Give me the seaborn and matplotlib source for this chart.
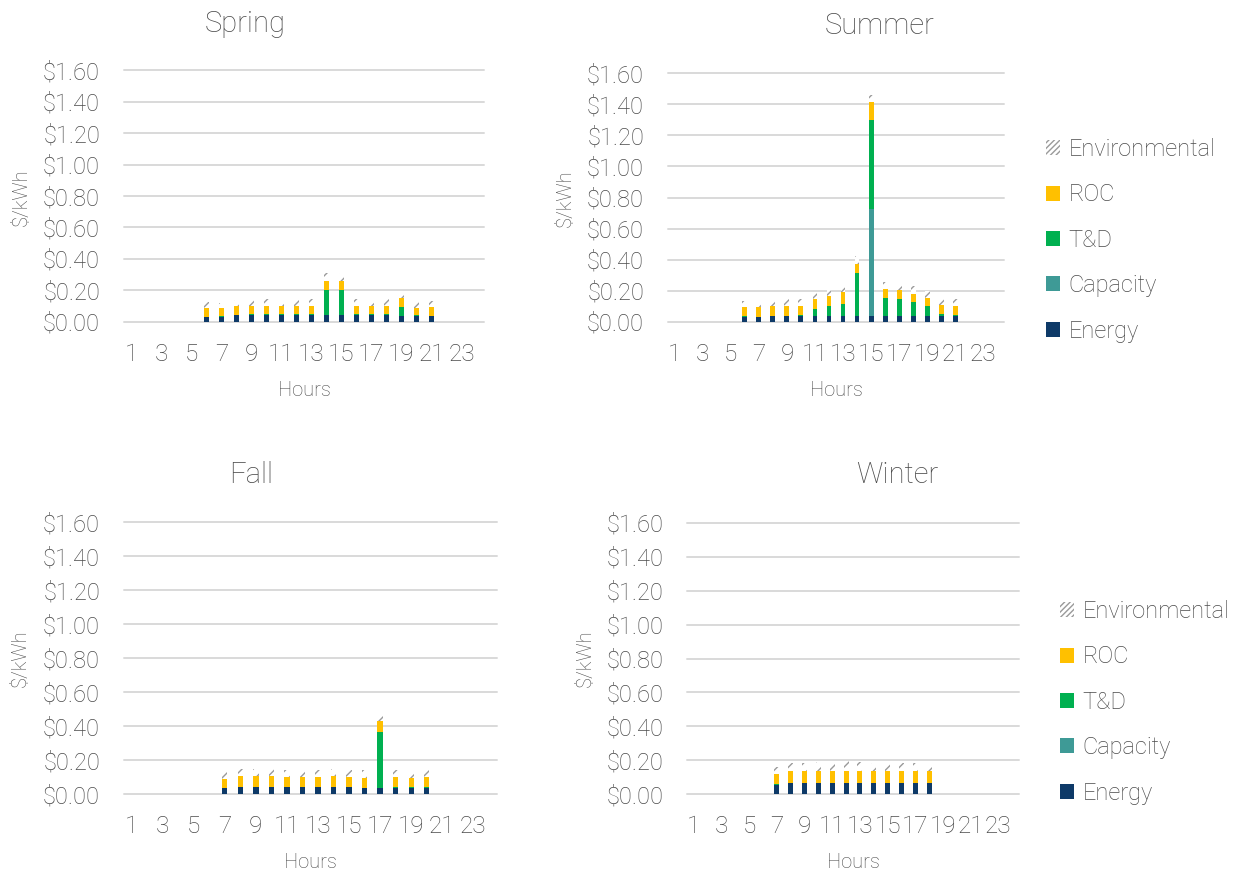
import numpy as np
import pandas as pd
import matplotlib
matplotlib.use('Agg')
import matplotlib.pyplot as plt
from matplotlib.patches import Patch
from matplotlib.ticker import FuncFormatter
import seaborn as sns

# categorias do eixo x (24 horas)
hour_order = [str(h) for h in range(1, 25)]
hour_ticklabels = [str(h) if h % 2 == 1 else '' for h in range(1, 25)]

components = ['Energy', 'Capacity', 'T&D', 'ROC', 'Environmental']

# Spring - horas 6 a 21
spring_hours = [6, 7, 8, 9, 10, 11, 12, 13, 14, 15, 16, 17, 18, 19, 20, 21]
spring_energy = [0.030, 0.032, 0.041, 0.045, 0.045, 0.045, 0.045, 0.045, 0.045, 0.045, 0.045, 0.045, 0.045, 0.039, 0.039, 0.034]
spring_capacity = [0, 0, 0, 0, 0, 0, 0, 0, 0, 0, 0, 0, 0, 0, 0, 0]
spring_td = [0.003, 0.003, 0.002, 0.002, 0.002, 0.002, 0.002, 0.002, 0.155, 0.159, 0.002, 0.002, 0.002, 0.056, 0.002, 0.005]
spring_roc = [0.057, 0.053, 0.056, 0.056, 0.056, 0.056, 0.054, 0.056, 0.058, 0.056, 0.056, 0.056, 0.056, 0.058, 0.049, 0.056]
spring_env = [0.033, 0.030, 0.036, 0.043, 0.043, 0.037, 0.037, 0.041, 0.049, 0.047, 0.043, 0.043, 0.043, 0.038, 0.039, 0.034]

# Summer - horas 6 a 21
summer_hours = [6, 7, 8, 9, 10, 11, 12, 13, 14, 15, 16, 17, 18, 19, 20, 21]
summer_energy = [0.030, 0.030, 0.037, 0.037, 0.037, 0.037, 0.037, 0.037, 0.037, 0.037, 0.037, 0.037, 0.037, 0.037, 0.037, 0.037]
summer_capacity = [0, 0, 0, 0, 0, 0, 0, 0, 0, 0.688, 0, 0, 0, 0, 0, 0]
summer_td = [0.004, 0.003, 0.002, 0.002, 0.004, 0.043, 0.064, 0.077, 0.277, 0.574, 0.116, 0.111, 0.092, 0.064, 0.010, 0.006]
summer_roc = [0.061, 0.059, 0.060, 0.060, 0.060, 0.064, 0.065, 0.077, 0.060, 0.116, 0.056, 0.054, 0.052, 0.052, 0.063, 0.058]
summer_env = [0.038, 0.041, 0.045, 0.045, 0.043, 0.047, 0.047, 0.048, 0.047, 0.045, 0.049, 0.047, 0.047, 0.045, 0.038, 0.043]

# Fall - horas 7 a 20
fall_hours = [7, 8, 9, 10, 11, 12, 13, 14, 15, 16, 17, 18, 19, 20]
fall_energy = [0.037, 0.041, 0.041, 0.041, 0.041, 0.041, 0.041, 0.041, 0.041, 0.037, 0.035, 0.037, 0.037, 0.037]
fall_capacity = [0, 0, 0, 0, 0, 0, 0, 0, 0, 0, 0, 0, 0, 0]
fall_td = [0.002, 0.002, 0.002, 0.002, 0.002, 0.002, 0.002, 0.002, 0.002, 0.002, 0.330, 0.006, 0.004, 0.006]
fall_roc = [0.053, 0.063, 0.063, 0.063, 0.061, 0.061, 0.059, 0.063, 0.061, 0.059, 0.064, 0.057, 0.055, 0.061]
fall_env = [0.037, 0.043, 0.043, 0.043, 0.041, 0.041, 0.043, 0.043, 0.041, 0.043, 0.046, 0.041, 0.041, 0.041]

# Winter - horas 7 a 18
winter_hours = [7, 8, 9, 10, 11, 12, 13, 14, 15, 16, 17, 18]
winter_energy = [0.057, 0.065, 0.065, 0.065, 0.065, 0.065, 0.065, 0.065, 0.065, 0.065, 0.065, 0.065]
winter_capacity = [0, 0, 0, 0, 0, 0, 0, 0, 0, 0, 0, 0]
winter_td = [0.006, 0.004, 0.004, 0.004, 0.004, 0.004, 0.004, 0.004, 0.004, 0.004, 0.004, 0.004]
winter_roc = [0.058, 0.066, 0.070, 0.070, 0.070, 0.070, 0.070, 0.070, 0.070, 0.066, 0.066, 0.066]
winter_env = [0.039, 0.049, 0.045, 0.050, 0.045, 0.055, 0.050, 0.045, 0.045, 0.049, 0.049, 0.043]

colors = {
    'Energy': '#0E3A68',
    'Capacity': '#3E9A96',
    'T&D': '#00B050',
    'ROC': '#FFC000',
    'Environmental': 'white',
}
hatch_color = '#9A9A9A'
text_color = '#4A4A4A'

sns.set_style('white')
plt.rcParams['font.family'] = ['Roboto', 'DejaVu Sans']
plt.rcParams['font.weight'] = 'light'
plt.rcParams['hatch.linewidth'] = 1.0
plt.rcParams['hatch.color'] = hatch_color

W, H = 1235, 873
fig = plt.figure(figsize=(W / 100, H / 100), dpi=100)


def px(x, y):
    return x / W, 1 - y / H


def rect(l, t, r, b):
    return [l / W, 1 - b / H, (r - l) / W, (b - t) / H]


def draw_season(ax, hours, energy, capacity, td, roc, env):
    parts = dict(zip(components, [energy, capacity, td, roc, env]))
    df = pd.DataFrame(parts, index=hours).reindex(range(1, 25), fill_value=0.0)
    df.index = hour_order
    bottom = np.zeros(24)
    for comp in components:
        vals = df[comp].values
        kw = {}
        if comp == 'Environmental':
            kw = dict(hatch='///', edgecolor=hatch_color)
        sns.barplot(x=df.index, y=vals, order=hour_order, color=colors[comp],
                    saturation=1, width=0.35, linewidth=0, errorbar=None,
                    bottom=bottom.copy(), ax=ax, **kw)
        bottom = bottom + vals

    ax.set_ylim(0, 1.6)
    ax.set_xlim(-0.5, 23.5)
    ax.set_yticks(np.arange(0, 1.61, 0.2))
    ax.yaxis.set_major_formatter(FuncFormatter(lambda v, p: f'${v:.2f}'))
    ax.set_xticks(range(24))
    ax.set_xticklabels(hour_ticklabels)
    ax.grid(axis='y', color='#D9D9D9', linewidth=1.4)
    ax.grid(axis='x', visible=False)
    ax.set_axisbelow(True)
    for gl in ax.get_ygridlines():
        gl.set_clip_on(False)
    sns.despine(ax=ax, left=True, bottom=True)
    ax.tick_params(axis='y', length=0, pad=17, labelsize=17, labelcolor=text_color)
    ax.tick_params(axis='x', length=0, pad=15, labelsize=17.5, labelcolor=text_color)
    ax.set_xlabel('')
    ax.set_ylabel('')


seasons = [
    ('Spring', (123.7, 70.3, 484, 321.7), spring_hours, spring_energy, spring_capacity, spring_td, spring_roc, spring_env,
     (245, 32), (304, 396), (21, 197)),
    ('Summer', (667.7, 73.3, 1004.3, 321.7), summer_hours, summer_energy, summer_capacity, summer_td, summer_roc, summer_env,
     (880, 34), (836, 396), (565, 198)),
    ('Fall', (123.7, 522.3, 496.7, 794.3), fall_hours, fall_energy, fall_capacity, fall_td, fall_roc, fall_env,
     (251, 483), (310, 868), (20, 658)),
    ('Winter', (687, 522.7, 1019, 794.3), winter_hours, winter_energy, winter_capacity, winter_td, winter_roc, winter_env,
     (897, 483), (853, 868), (585, 658)),
]

for name, box, hrs, e, c, t, r, env, tpos, hpos, ypos in seasons:
    ax = fig.add_axes(rect(*box))
    draw_season(ax, hrs, e, c, t, r, env)
    fig.text(*px(*tpos), name, fontsize=21, color=text_color, ha='center', va='baseline')
    fig.text(*px(*hpos), 'Hours', fontsize=14.5, color=text_color, ha='center', va='baseline')
    fig.text(*px(*ypos), '$/kWh', fontsize=14.5, color=text_color, ha='center', va='center',
             rotation=90)

# legendas (ordem invertida, como no original)
legend_names = ['Environmental', 'ROC', 'T&D', 'Capacity', 'Energy']
handles = []
for n in legend_names:
    if n == 'Environmental':
        handles.append(Patch(facecolor='white', edgecolor=hatch_color, hatch='//////', linewidth=0))
    else:
        handles.append(Patch(facecolor=colors[n], linewidth=0))

for anchor in [(1046, 138), (1060, 600)]:
    leg = fig.legend(handles, legend_names, loc='upper left', bbox_to_anchor=px(*anchor),
                     frameon=False, fontsize=17, handlelength=0.6, handleheight=0.6,
                     handletextpad=0.35, labelspacing=0.95, borderpad=0, borderaxespad=0)
    for txt in leg.get_texts():
        txt.set_color(text_color)

fig.savefig('out.png', dpi=100)
